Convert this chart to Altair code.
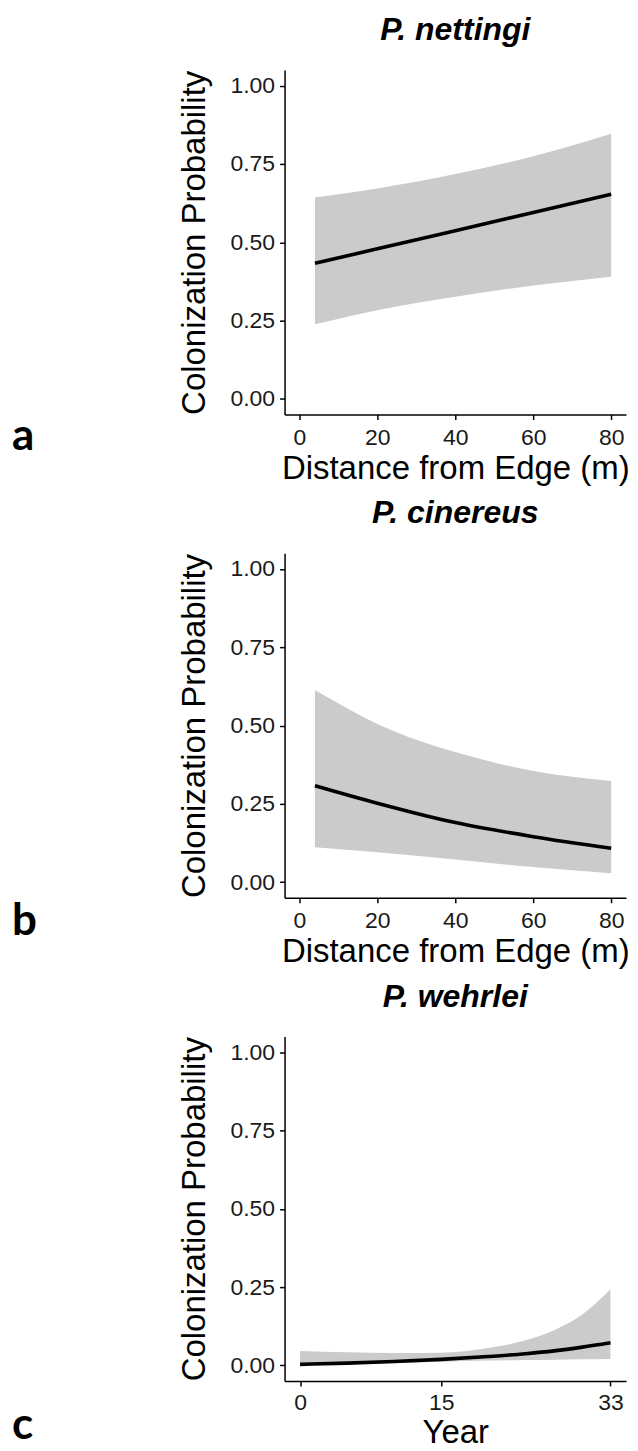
import altair as alt
import pandas as pd

# Panel a: P. nettingi
a_x = [4, 20, 40, 60, 80]
a_fit = [0.433, 0.479, 0.537, 0.595, 0.653]
a_upper = [0.643, 0.672, 0.718, 0.775, 0.847]
a_lower = [0.238, 0.283, 0.326, 0.362, 0.390]

# Panel b: P. cinereus
b_x = [4, 20, 40, 60, 80]
b_fit = [0.308, 0.252, 0.190, 0.145, 0.108]
b_upper = [0.613, 0.505, 0.415, 0.355, 0.323]
b_lower = [0.111, 0.095, 0.072, 0.048, 0.028]

# Panel c: P. wehrlei
c_x = [0, 5, 10, 15, 20, 24, 27, 30, 33]
c_fit = [0.003, 0.007, 0.012, 0.019, 0.028, 0.037, 0.046, 0.058, 0.072]
c_upper = [0.046, 0.042, 0.039, 0.040, 0.055, 0.080, 0.112, 0.162, 0.243]
c_lower = [0.001, 0.004, 0.007, 0.011, 0.015, 0.017, 0.018, 0.019, 0.020]

y_ticks = [0, 0.25, 0.5, 0.75, 1.0]
dist_ticks = [0, 20, 40, 60, 80]
year_ticks = [0, 15, 33]

FONT = "Liberation Sans"
W, H = 342, 345


def panel(xs, fit, up, lo, title, xtitle, xdomain, xticks, letter, letter_y, xtitle_pad, xlabel_pad):
    df = pd.DataFrame({"x": xs, "fit": fit, "upper": up, "lower": lo})
    xenc = alt.X(
        "x:Q",
        scale=alt.Scale(domain=xdomain, nice=False, zero=False),
        axis=alt.Axis(values=xticks, title=xtitle, format="d",
                      titlePadding=xtitle_pad, labelPadding=xlabel_pad),
    )
    yaxis = alt.Axis(values=y_ticks, format=".2f", title="Colonization Probability")
    yscale = alt.Scale(domain=[-0.05, 1.05], nice=False)
    band = alt.Chart(df).mark_area(color="#cbcbcb", interpolate="monotone").encode(
        x=xenc,
        y=alt.Y("lower:Q", scale=yscale, axis=yaxis),
        y2="upper:Q",
    )
    line = alt.Chart(df).mark_line(color="black", strokeWidth=3.6, interpolate="monotone").encode(
        x="x:Q", y="fit:Q"
    )
    lab = alt.Chart(pd.DataFrame({"t": [letter]})).mark_text(
        font="Lato", fontWeight="bold", fontSize=44, align="left", baseline="alphabetic", color="black"
    ).encode(text="t:N", x=alt.value(-273), y=alt.value(letter_y))
    return alt.layer(band, line, lab).properties(
        width=W,
        height=H,
        title=alt.TitleParams(
            title, font=FONT, fontSize=32, fontStyle="italic", fontWeight="bold",
            anchor="middle", frame="group", offset=23, color="black",
        ),
    )


pa = panel(a_x, a_fit, a_upper, a_lower, "P. nettingi", "Distance from Edge (m)", [-3.8, 83.8], dist_ticks, "a", 381, 3, 7)
pb = panel(b_x, b_fit, b_upper, b_lower, "P. cinereus", "Distance from Edge (m)", [-3.8, 83.8], dist_ticks, "b", 382, 3, 7)
pc = panel(c_x, c_fit, c_upper, c_lower, "P. wehrlei", "Year", [-1.65, 34.65], year_ticks, "c", 403, 2, 6)

chart = (
    alt.vconcat(pa, pb, pc, spacing=12)
    .properties(padding={"left": 4, "top": 5, "right": 0, "bottom": 0})
    .configure_view(stroke=None)
    .configure_axis(
        labelFont=FONT, titleFont=FONT, labelFontSize=23, titleFontSize=33,
        labelColor="#1a1a1a", titleColor="black", titleFontWeight="normal",
        domainColor="black", domainWidth=1.5, tickColor="black", tickWidth=1.5, tickSize=5,
        grid=False,
    )
    .configure_axisY(labelPadding=5, titlePadding=18)
)

chart.save("out.html", embed_options={"renderer": "svg", "actions": False})
